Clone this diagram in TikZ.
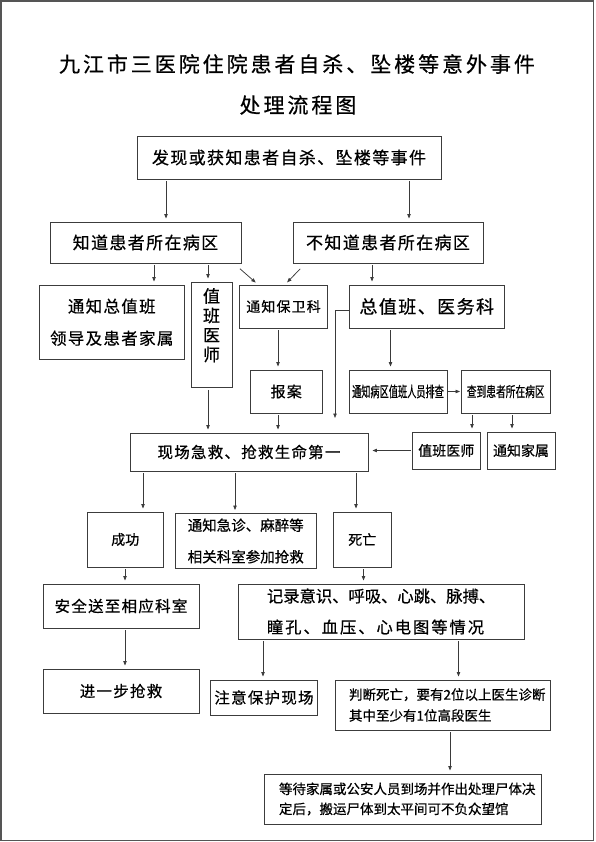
\documentclass[tikz,border=0pt]{standalone}
\usepackage{fontspec}
\setmainfont{Noto Sans CJK SC}[FakeBold=0.6]
\newfontfamily\condA{Noto Sans CJK SC}[FakeStretch=0.62,FakeBold=0.6]
\newfontfamily\condB{Noto Sans CJK SC}[FakeStretch=0.68,FakeBold=0.6]
\usetikzlibrary{arrows.meta}
\definecolor{boxc}{HTML}{3C3C3C}
\definecolor{linec}{HTML}{3A3A3A}
\definecolor{framec}{HTML}{555555}
\newcommand\setfs[2]{\fontsize{#1}{#2}\selectfont}
\tikzset{
  box/.style={draw=boxc, line width=0.9pt, inner sep=0pt, align=center, text=black},
  arr/.style={draw=linec, line width=0.75pt, -{Triangle[length=4.5pt,width=3.4pt]}, shorten <=2pt, shorten >=3pt},
  ls/.style={font=\setfs{#1}{#1}\addfontfeature{LetterSpace=8}},
}
\begin{document}
\begin{tikzpicture}[x=1pt,y=-1pt]
\useasboundingbox (0,0) rectangle (595,842);
\draw[draw=framec, line width=1.6pt] (1,1) rectangle (593.5,840.5);

% title
\node[font=\setfs{21}{24}\addfontfeature{LetterSpace=14}] (t1) at (297,64) {九江市三医院住院患者自杀、坠楼等意外事件};
\node[font=\setfs{21}{24}\addfontfeature{LetterSpace=14}] (t2) at (298,105) {处理流程图};

% boxes
\node[box, ls=17, minimum width=304, minimum height=43] (top) at (289,157.5) {发现或获知患者自杀、坠楼等事件};
\node[box, ls=17, minimum width=191, minimum height=41] (know) at (145.5,242.5) {知道患者所在病区};
\node[box, ls=17, minimum width=190, minimum height=41] (notknow) at (388,242.5) {不知道患者所在病区};
\node[box, font=\setfs{16.5}{32}\addfontfeature{LetterSpace=8}, minimum width=144.5, minimum height=74.5] (leaders) at (111.75,322.25) {通知总值班\\领导及患者家属};
\node[box, minimum width=41, minimum height=105.5,
  label={[font=\setfs{17}{19.5}, align=center, yshift=9.5pt]center:值\\班\\医\\师}] (dd) at (211.5,334.75) {};
\node[box, ls=14, minimum width=88, minimum height=43] (security) at (283.5,306.5) {通知保卫科};
\node[box, ls=18, minimum width=154.5, minimum height=43] (chief) at (426.75,306.5) {总值班、医务科};
\node[box, ls=15, minimum width=72.5, minimum height=43] (report) at (286.25,391.5) {报案};
\node[box, font=\condA\setfs{14.8}{16}, minimum width=98, minimum height=43] (ward) at (398,391.5) {通知病区值班人员排查};
\node[box, font=\condB\setfs{14.3}{16}, minimum width=88.5, minimum height=43] (found) at (505.75,391.5) {查到患者所在病区};
\node[box, ls=15.5, minimum width=238, minimum height=38] (rescue) at (249,452) {现场急救、抢救生命第一};
\node[box, font=\setfs{14}{16}, minimum width=68.5, minimum height=37] (dd2) at (446.25,450.5) {值班医师};
\node[box, font=\setfs{14}{16}, minimum width=68, minimum height=37] (family) at (521,450.5) {通知家属};
\node[box, font=\setfs{14}{16}, minimum width=76.5, minimum height=55] (success) at (125.25,539.5) {成功};
\node[box, font=\setfs{14.5}{31.5}, minimum width=141.5, minimum height=55] (er) at (245.75,541) {通知急诊、麻醉等\\相关科室参加抢救};
\node[box, font=\setfs{14}{16}, minimum width=57.5, minimum height=55] (death) at (362.25,539.5) {死亡};
\node[box, ls=15.5, minimum width=156, minimum height=44] (safe) at (121,606) {安全送至相应科室};
\node[box, font=\setfs{16.3}{31}, align=left, inner xsep=29pt, text width=228.5pt, minimum height=55] (record) at (381.25,611.5) {记录意识、呼吸、心跳、脉搏、\\{\addfontfeature{LetterSpace=12}瞳孔、血压、心电图等情况}};
\node[box, ls=15.5, minimum width=156, minimum height=44] (further) at (121,691) {进一步抢救};
\node[box, ls=15.5, minimum width=107, minimum height=35] (protect) at (264,697.5) {注意保护现场};
\node[box, font=\setfs{13.5}{21}, align=left, inner xsep=13.5pt, text width=187.5pt, minimum height=50] (judge) at (442.75,705) {判断死亡，要有2位以上医生诊断\\其中至少有1位高段医生};
\node[box, font=\setfs{13.5}{20}, align=left, inner xsep=14.5pt, text width=248pt, minimum height=50] (wait) at (403,799) {等待家属或公安人员到场并作出处理尸体决\\定后，搬运尸体到太平间可不负众望馆};

% connectors
\draw[arr] (166,0 |- top.south) -- (166,0 |- know.north);
\draw[arr] (409,0 |- top.south) -- (409,0 |- notknow.north);
\draw[arr] (154,0 |- know.south) -- (154,0 |- leaders.north);
\draw[arr] (208,0 |- know.south) -- (208,0 |- dd.north);
\draw[arr] ([shift={(-3,4)}]know.south east) -- ([shift={(-25.5,0)}]security.north);
\draw[arr] ([shift={(9,4)}]notknow.south west) -- ([shift={(1.5,0)}]security.north);
\draw[arr] (372,0 |- notknow.south) -- (372,0 |- chief.north);
\coordinate (c1) at (335,418);
\draw[arr, shorten <=0pt, shorten >=0pt] (chief.west |- 0,310) -| (c1);
\draw[arr] (208,0 |- dd.south) -- (208,0 |- rescue.north);
\draw[arr] (278,0 |- report.south) -- (278,0 |- rescue.north);
\draw[arr] (278,0 |- security.south) -- (278,0 |- report.north);
\draw[arr] (390.5,0 |- chief.south) -- (390.5,0 |- ward.north);
\draw[arr, shorten <=1pt, shorten >=1pt] (ward.east) -- (found.west |- ward.east);
\draw[arr] (472,0 |- found.south) -- (472,0 |- dd2.north);
\draw[arr] (512,0 |- found.south) -- (512,0 |- family.north);
\draw[arr, shorten <=1pt, shorten >=4pt] (dd2.west) -- (rescue.east |- dd2.west);
\draw[arr] (143,0 |- rescue.south) -- (143,0 |- success.north);
\draw[arr] (235,0 |- rescue.south) -- (235,0 |- er.north);
\draw[arr] (356,0 |- rescue.south) -- (356,0 |- death.north);
\draw[arr] (125,0 |- success.south) -- (125,0 |- safe.north);
\draw[arr] (363.5,0 |- death.south) -- (363.5,0 |- record.north);
\draw[arr] (125,0 |- safe.south) -- (125,0 |- further.north);
\draw[arr] (263,0 |- record.south) -- (263,0 |- protect.north);
\draw[arr] (458.5,0 |- record.south) -- (458.5,0 |- judge.north);
\draw[arr] (450,0 |- judge.south) -- (450,0 |- wait.north);
\end{tikzpicture}
\end{document}
